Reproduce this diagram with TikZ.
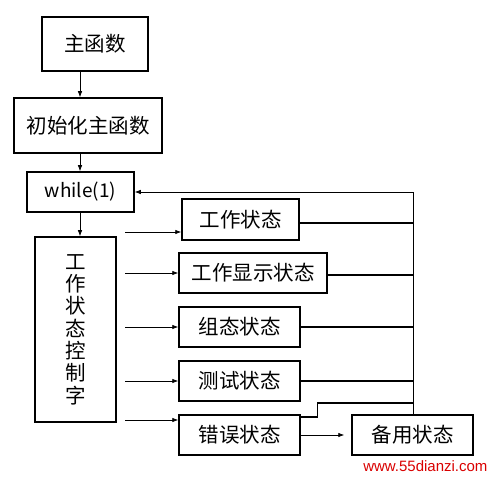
\documentclass[tikz,border=0pt]{standalone}
\usepackage{fontspec}
\setmainfont{Noto Sans CJK SC}
\newfontfamily\wmfont{Liberation Sans}
\usetikzlibrary{positioning, arrows.meta, calc}

\tikzset{
	box/.style={draw, line width=1.5pt, minimum width=#1, minimum height=40pt, inner sep=0pt, font=\fontsize{20.5}{22.3}\selectfont},
	link/.style={line width=0.7pt, -{Latex[length=6pt, width=4.5pt]}},
	back/.style={line width=1.2pt},
}

\begin{document}
\begin{tikzpicture}[x=1pt, y=-1pt]
	\useasboundingbox (0,0) rectangle (495,478);
	\node[box=106pt, minimum height=54pt] (main) at (95,44) {主函数};
	\node[box=148pt, minimum height=55pt] (init) at (88,125.5) {初始化主函数};
	\node[box=107pt, font=\fontsize{19}{22}\selectfont] (while) at (80.5,192) {while(1)};
	\node[box=81pt, minimum height=185pt, align=center] (ctrl) at (75.5,329.5) {工\\作\\状\\态\\控\\制\\字};
	\node[box=117pt, minimum height=41pt] (work) at (240.5,219.5) {工作状态};
	\node[box=148pt] (disp) at (253,273) {工作显示状态};
	\node[box=121pt] (cfg) at (239.5,327) {组态状态};
	\node[box=121pt] (test) at (239.5,381) {测试状态};
	\node[box=121pt] (err) at (239.5,435) {错误状态};
	\node[box=121pt] (spare) at (412.5,435) {备用状态};
	\node[anchor=east, text=red!85!black, font=\wmfont\fontsize{15}{18}\selectfont] (mark) at (491,466) {www.55dianzi.com};

	\coordinate (spine) at (80,0);
	\coordinate (tap) at (125,0);
	\coordinate (bus) at (413,0);

	\draw[link] (main.south -| spine) -- (init.north -| spine);
	\draw[link] (init.south -| spine) -- (while.north -| spine);
	\draw[link] (while.south -| spine) -- (ctrl.north -| spine);

	\draw[link] (tap |- 0,232) -- (work.west |- 0,232);
	\draw[link] (tap |- disp.west) -- (disp.west);
	\draw[link] (tap |- cfg.west) -- (cfg.west);
	\draw[link] (tap |- test.west) -- (test.west);
	\draw[link] (tap |- 0,420) -- (err.west |- 0,420);
	\draw[link, shorten >=7pt] (err.east) -- (spare.west);

	\draw[back] (work.east |- 0,223) -- (bus |- 0,223);
	\draw[back] (disp.east |- 0,275) -- (bus |- 0,275);
	\draw[back] (cfg.east) -- (bus |- cfg.east);
	\draw[back] (test.east) -- (bus |- test.east);
	\draw[back] (err.east |- 0,417) -- ++(17,0) |- (bus |- 0,403);
	\draw[link] (spare.north -| bus) -- (bus |- while.east) -- (while.east);
\end{tikzpicture}
\end{document}
